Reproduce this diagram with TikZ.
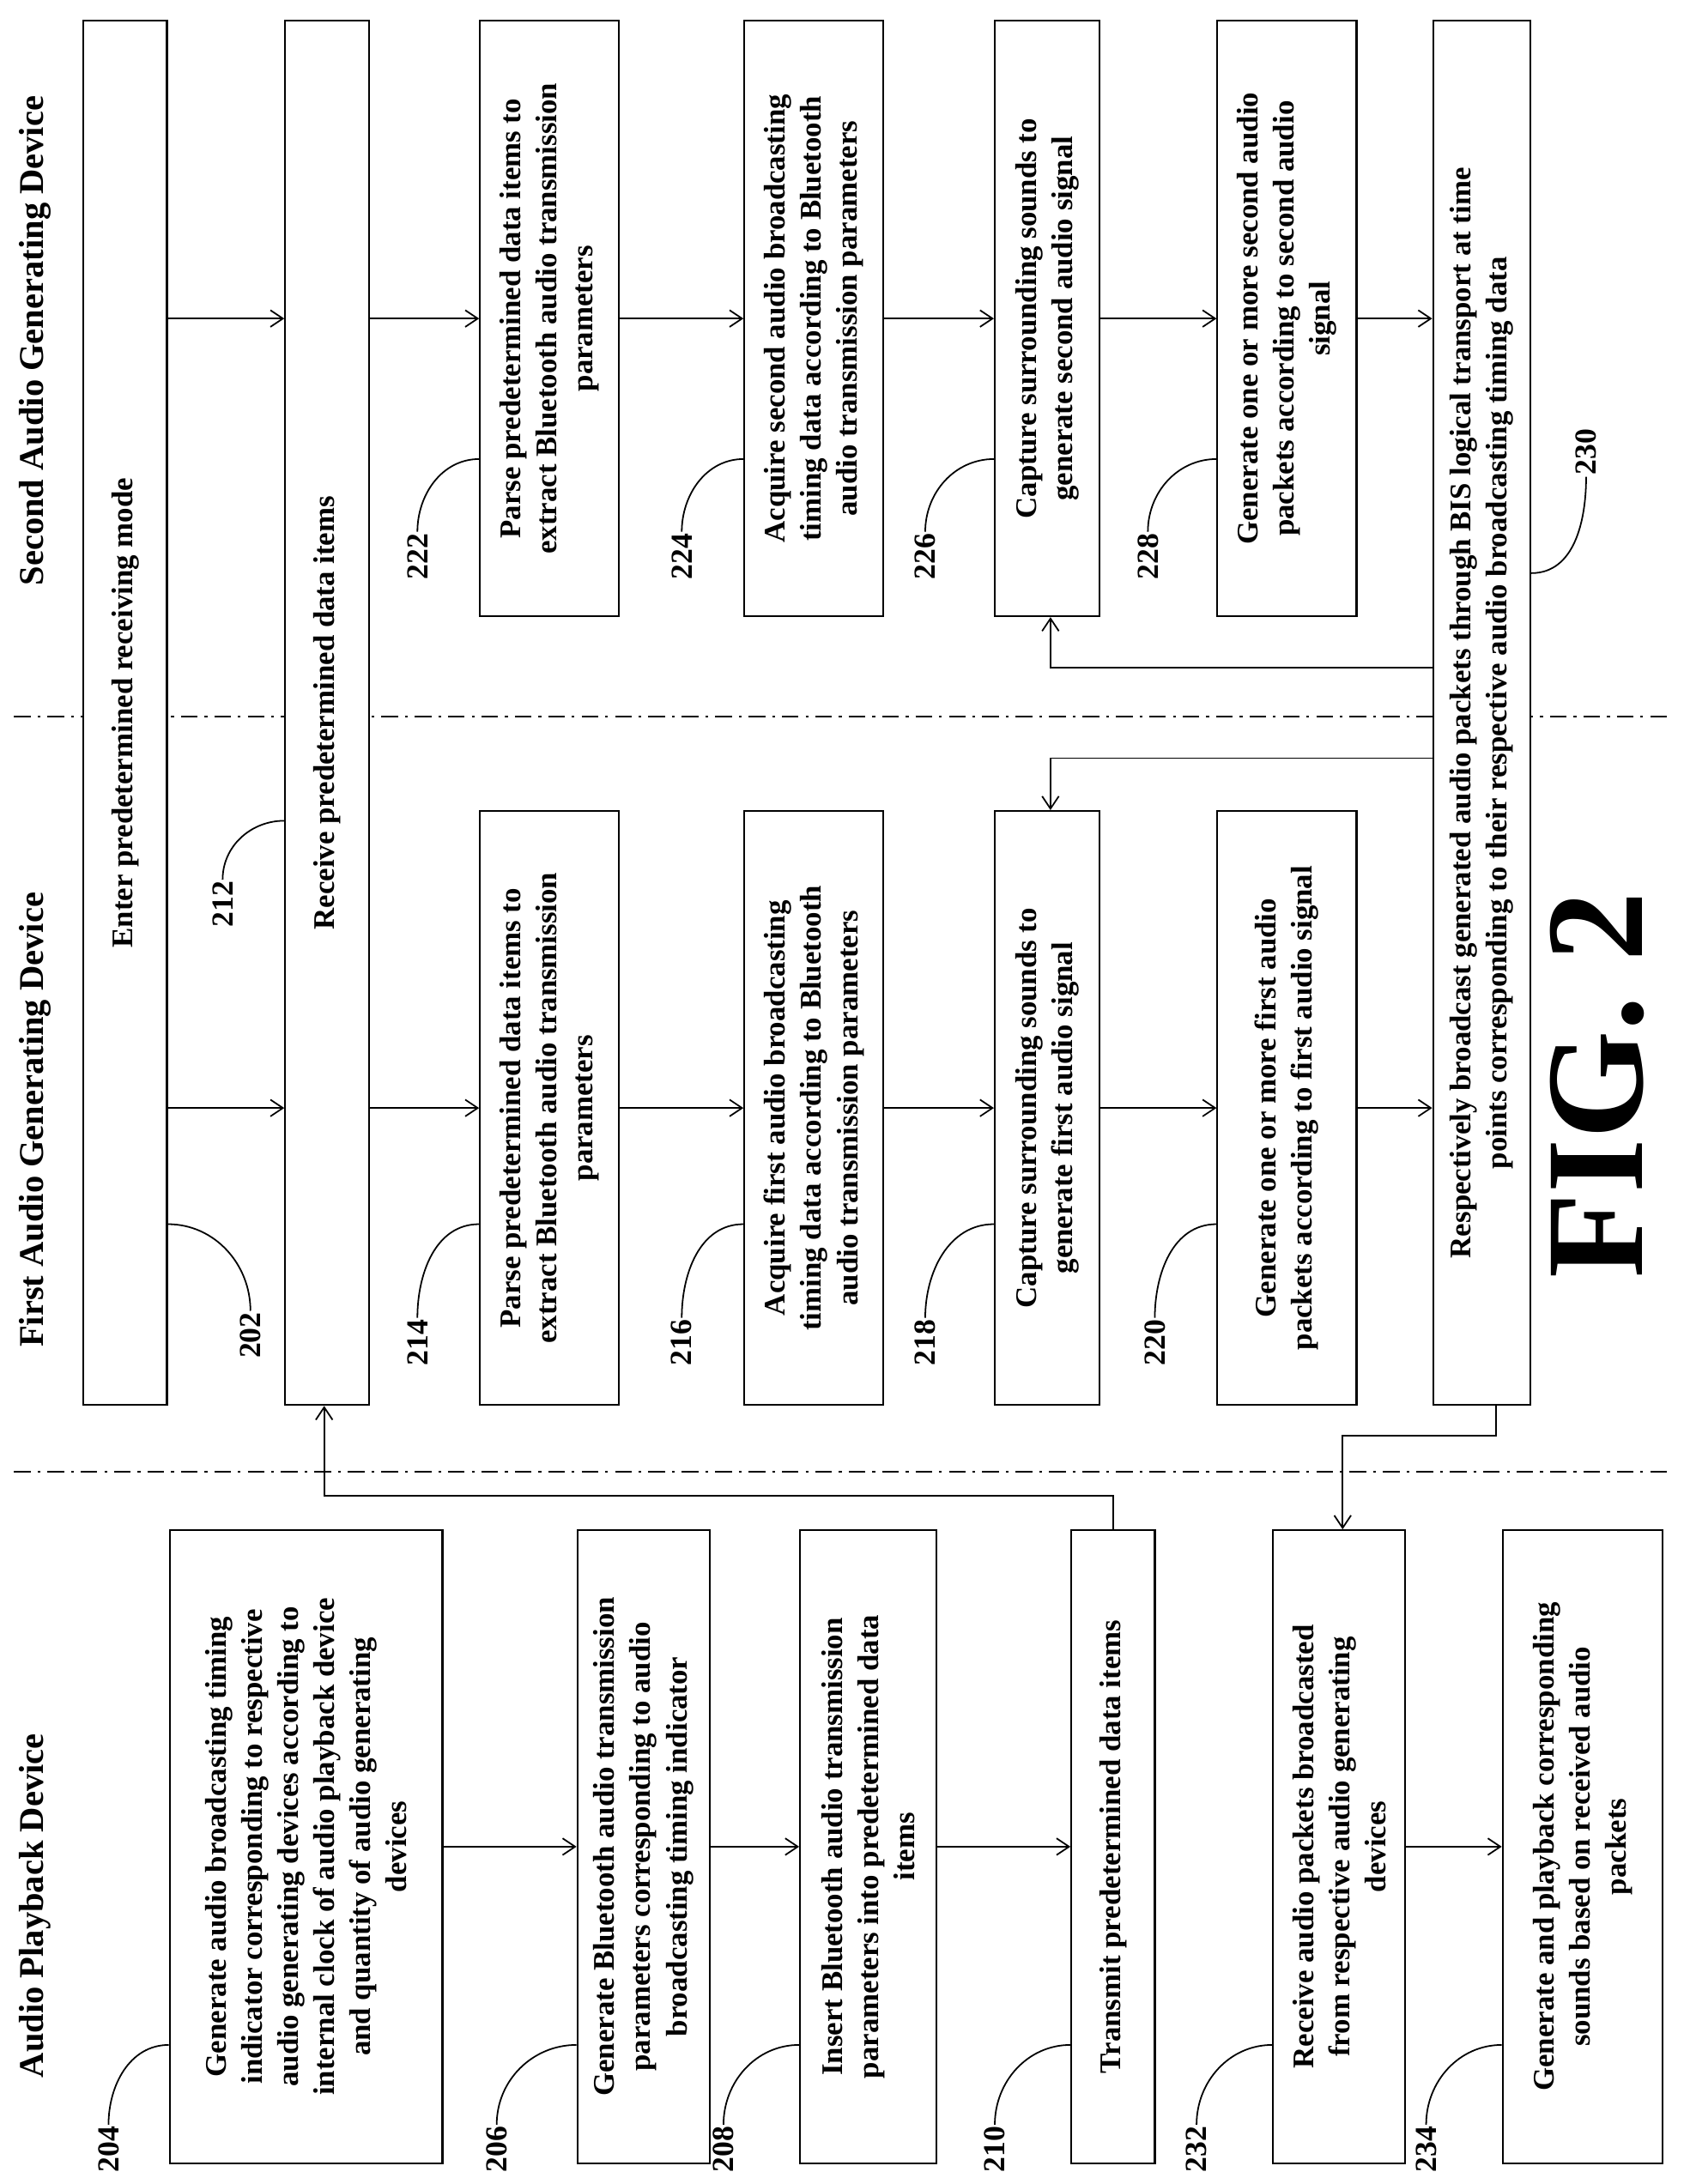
\documentclass[tikz,border=0pt]{standalone}
\usepackage{fontspec}
\setmainfont{Liberation Serif}
\usetikzlibrary{arrows.meta}
\begin{document}
\begin{tikzpicture}[x=1pt,y=-1pt,
  box/.style={draw,fill=white,line width=1.3pt,rotate=90,inner sep=0pt,align=center,
    font=\bfseries\fontsize{21.5}{26}\selectfont},
  lab/.style={rotate=90,inner sep=1pt,font=\bfseries\fontsize{22}{26}\selectfont},
  head/.style={rotate=90,inner sep=0pt,font=\bfseries\fontsize{25}{28}\selectfont},
  arr/.style={line width=1.1pt,-{Straight Barb[length=9pt,width=12pt]}},
  ln/.style={line width=1.1pt},
  sep/.style={line width=1.1pt,dash pattern=on 12pt off 5pt on 2pt off 5pt}]
\useasboundingbox (0,0) rectangle (1210,1570);
% headings
\node[head] (h2) at (25,245) {Second Audio Generating Device};
\node[head] (h1) at (25,805) {First Audio Generating Device};
\node[head] (h0) at (25,1370) {Audio Playback Device};
% separators
\coordinate (s1a) at (10,515); \coordinate (s1b) at (1200,515);
\coordinate (s2a) at (10,1058); \coordinate (s2b) at (1200,1058);
\draw[sep] (s1a) -- (s1b);
\draw[sep] (s2a) -- (s2b);
% spanning boxes
\node[box,minimum width=995pt,minimum height=60pt] (b202) at (90,512.5) {Enter predetermined receiving mode};
\node[box,minimum width=995pt,minimum height=60pt] (b212) at (235,512.5) {Receive predetermined data items};
\node[box,minimum width=995pt,minimum height=70pt] (b230) at (1065,512.5) {Respectively broadcast generated audio packets through BIS logical transport at time\\points corresponding to their respective audio broadcasting timing data};
% right column
\node[box,minimum width=428pt,minimum height=100pt] (b222) at (395,229) {Parse predetermined data items to\\extract Bluetooth audio transmission\\parameters};
\node[box,minimum width=428pt,minimum height=100pt] (b224) at (585,229) {Acquire second audio broadcasting\\timing data according to Bluetooth\\audio transmission parameters};
\node[box,minimum width=428pt,minimum height=75pt] (b226) at (752.5,229) {Capture surrounding sounds to\\generate second audio signal};
\node[box,minimum width=428pt,minimum height=100pt] (b228) at (925,229) {Generate one or more second audio\\packets according to second audio\\signal};
% middle column
\node[box,minimum width=427pt,minimum height=100pt] (b214) at (395,796.5) {Parse predetermined data items to\\extract Bluetooth audio transmission\\parameters};
\node[box,minimum width=427pt,minimum height=100pt] (b216) at (585,796.5) {Acquire first audio broadcasting\\timing data according to Bluetooth\\audio transmission parameters};
\node[box,minimum width=427pt,minimum height=75pt] (b218) at (752.5,796.5) {Capture surrounding sounds to\\generate first audio signal};
\node[box,minimum width=427pt,minimum height=100pt] (b220) at (925,796.5) {Generate one or more first audio\\packets according to first audio signal};
% left column
\node[box,minimum width=455pt,minimum height=196pt] (b204) at (220,1327.5) {Generate audio broadcasting timing\\indicator corresponding to respective\\audio generating devices according to\\internal clock of audio playback device\\and quantity of audio generating\\devices};
\node[box,minimum width=455pt,minimum height=95pt] (b206) at (462.5,1327.5) {Generate Bluetooth audio transmission\\parameters corresponding to audio\\broadcasting timing indicator};
\node[box,minimum width=455pt,minimum height=98pt] (b208) at (624,1327.5) {Insert Bluetooth audio transmission\\parameters into predetermined data\\items};
\node[box,minimum width=455pt,minimum height=60pt] (b210) at (800,1327.5) {Transmit predetermined data items};
\node[box,minimum width=455pt,minimum height=95pt] (b232) at (962.5,1327.5) {Receive audio packets broadcasted\\from respective audio generating\\devices};
\node[box,minimum width=455pt,minimum height=115pt] (b234) at (1137.5,1327.5) {Generate and playback corresponding\\sounds based on received audio\\packets};
% arrows right column
\draw[arr] (b202.south |- b222) -- (b212.north |- b222);
\draw[arr] (b212.south |- b222) -- (b222);
\draw[arr] (b222) -- (b224);
\draw[arr] (b224) -- (b226);
\draw[arr] (b226) -- (b228);
\draw[arr] (b228) -- (b230.north |- b228);
% arrows middle column
\draw[arr] (b202.south |- b214) -- (b212.north |- b214);
\draw[arr] (b212.south |- b214) -- (b214);
\draw[arr] (b214) -- (b216);
\draw[arr] (b216) -- (b218);
\draw[arr] (b218) -- (b220);
\draw[arr] (b220) -- (b230.north |- b220);
% arrows left column
\draw[arr] (b204) -- (b206);
\draw[arr] (b206) -- (b208);
\draw[arr] (b208) -- (b210);
\draw[arr] (b232) -- (b234);
% feedback connectors
\draw[arr] (b230.north |- 0,480) -| (b226.west -| 755,0);
\draw[arr] (b230.north |- 0,545) -| (b218.east -| 755,0);
\draw[arr] (b230.west -| 1075,0) |- (965,1032) -- (b232.east -| 965,0);
\draw[arr] (b210.east) |- (233,1075) -- (b212.west -| 233,0);
% labels
\node[lab] (l204) at (78,1545) {204};
\node[lab] (l206) at (357,1545) {206};
\node[lab] (l208) at (520,1545) {208};
\node[lab] (l210) at (715,1545) {210};
\node[lab] (l232) at (860,1545) {232};
\node[lab] (l234) at (1025,1545) {234};
\draw[ln] (l204.east) to[out=90,in=180] (b204.north |- 0,1470);
\draw[ln] (l206.east) to[out=90,in=180] (b206.north |- 0,1470);
\draw[ln] (l208.east) to[out=90,in=180] (b208.north |- 0,1470);
\draw[ln] (l210.east) to[out=90,in=180] (b210.north |- 0,1470);
\draw[ln] (l232.east) to[out=90,in=180] (b232.north |- 0,1470);
\draw[ln] (l234.east) to[out=90,in=180] (b234.north |- 0,1470);
\node[lab] (l202) at (180,960) {202};
\node[lab] (l212) at (160,650) {212};
\node[lab] (l214) at (300,965) {214};
\node[lab] (l216) at (490,965) {216};
\node[lab] (l218) at (665,965) {218};
\node[lab] (l220) at (830,965) {220};
\draw[ln] (l202.east) to[out=90,in=0] (b202.south |- 0,880);
\draw[ln] (l212.east) to[out=90,in=180] (b212.north |- 0,590);
\draw[ln] (l214.east) to[out=90,in=180] (b214.north |- 0,880);
\draw[ln] (l216.east) to[out=90,in=180] (b216.north |- 0,880);
\draw[ln] (l218.east) to[out=90,in=180] (b218.north |- 0,880);
\draw[ln] (l220.east) to[out=90,in=180] (b220.north |- 0,880);
\node[lab] (l222) at (300,400) {222};
\node[lab] (l224) at (490,400) {224};
\node[lab] (l226) at (665,400) {226};
\node[lab] (l228) at (825,400) {228};
\node[lab] (l230) at (1140,325) {230};
\draw[ln] (l222.east) to[out=90,in=180] (b222.north |- 0,330);
\draw[ln] (l224.east) to[out=90,in=180] (b224.north |- 0,330);
\draw[ln] (l226.east) to[out=90,in=180] (b226.north |- 0,330);
\draw[ln] (l228.east) to[out=90,in=180] (b228.north |- 0,330);
\draw[ln] (l230.west) to[out=-90,in=0] (b230.south |- 0,412);
% figure label
\node[rotate=90,font=\bfseries\fontsize{100}{104}\selectfont] (fig) at (1148,780) {FIG. 2};
\end{tikzpicture}
\end{document}
